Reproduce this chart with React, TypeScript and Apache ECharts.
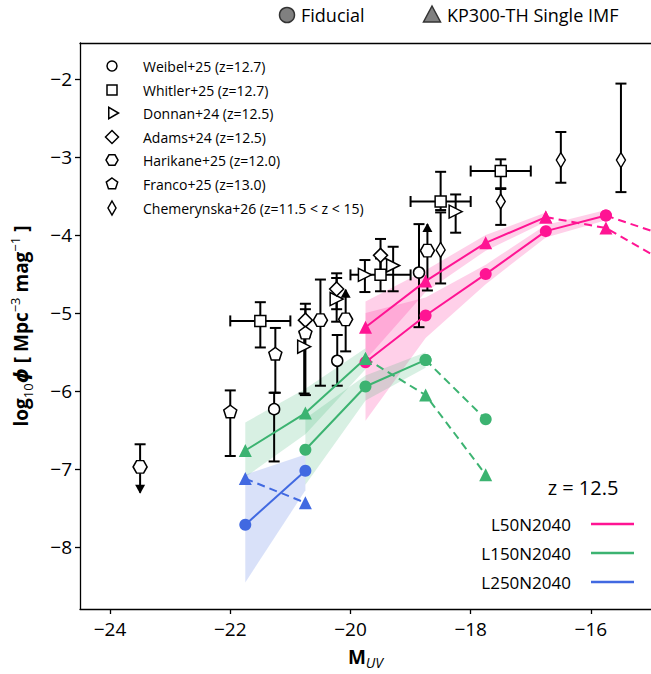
import React, { useEffect, useRef } from "react";
import * as echarts from "echarts";

// ---------- axis ----------
const X_MIN = -24.5;
const X_MAX = -15.0;
const Y_MIN = -8.79;
const Y_MAX = -1.54;
const xTicks = [-24, -22, -20, -18, -16];
const yTicks = [-8, -7, -6, -5, -4, -3, -2];

// ---------- simulations ----------
// L50N2040
const l50FidX = [-19.75, -18.75, -17.75, -16.75, -15.75, -14.75];
const l50FidY = [-5.63, -5.03, -4.5, -3.95, -3.75, -4.01];
const l50FidSolidN = 5;
const l50KpX = [-19.75, -18.75, -17.75, -16.75, -15.75, -14.75];
const l50KpY = [-5.18, -4.59, -4.1, -3.77, -3.91, -4.35];
const l50KpSolidN = 4;
const l50FidBandX = [-19.75, -18.75, -17.75, -16.75, -15.75];
const l50FidBandLo = [-6.38, -5.32, -4.63, -4.03, -3.81];
const l50FidBandHi = [-5.0, -4.8, -4.38, -3.87, -3.68];
const l50KpBandX = [-19.75, -18.75, -17.75, -16.75];
const l50KpBandLo = [-5.6, -4.73, -4.2, -3.83];
const l50KpBandHi = [-4.85, -4.45, -4.0, -3.71];

// L150N2040
const l150FidX = [-20.75, -19.75, -18.75, -17.75];
const l150FidY = [-6.75, -5.94, -5.6, -6.36];
const l150FidSolidN = 3;
const l150KpX = [-21.75, -20.75, -19.75, -18.75, -17.75];
const l150KpY = [-6.76, -6.28, -5.58, -6.05, -7.07];
const l150KpSolidN = 3;
const l150FidBandX = [-20.75, -19.75, -18.75];
const l150FidBandLo = [-7.2, -6.12, -5.7];
const l150FidBandHi = [-6.35, -5.8, -5.5];
const l150KpBandX = [-21.75, -20.75, -19.75];
const l150KpBandLo = [-7.1, -6.55, -5.72];
const l150KpBandHi = [-6.4, -5.97, -5.45];

// L250N2040
const l250FidX = [-21.75, -20.75];
const l250FidY = [-7.71, -7.02];
const l250KpX = [-21.75, -20.75];
const l250KpY = [-7.12, -7.43];
const l250FidBandX = [-21.75, -20.75];
const l250FidBandLo = [-8.45, -7.27];
const l250FidBandHi = [-7.07, -6.81];

// ---------- observations ----------
const weibelX = [-21.27, -20.22, -18.86];
const weibelY = [-6.23, -5.61, -4.48];
const weibelHi = [-6.02, -5.28, -3.86];
const weibelLo = [-6.9, -5.93, -5.18];

const whitlerX = [-21.5, -19.5, -18.5, -17.5];
const whitlerY = [-5.1, -4.51, -3.57, -3.18];
const whitlerHi = [-4.86, -4.3, -3.19, -3.03];
const whitlerLo = [-5.44, -4.72, -3.68, -3.4];
const whitlerXLo = [-22.0, -20.0, -19.0, -18.0];
const whitlerXHi = [-21.0, -19.0, -18.0, -17.0];

const donnanX = [-20.77, -20.23, -19.76, -19.29, -18.25];
const donnanY = [-5.43, -4.82, -4.51, -4.39, -3.7];
const donnanHi = [-5.25, -4.55, -4.32, -4.15, -3.48];
const donnanLo = [-6.03, -5.11, -4.73, -4.72, -3.97];

const adamsX = [-20.75, -20.23, -19.5];
const adamsY = [-5.09, -4.69, -4.26];
const adamsHi = [-4.88, -4.49, -4.05];
const adamsLo = [-5.3, -4.95, -4.45];

const harikaneX = [-23.5, -20.5, -20.08, -18.72];
const harikaneY = [-6.97, -5.09, -5.08, -4.2];
const harikaneHi = [-6.68, -4.57, -4.7, -3.86];
const harikaneLo = [-7.3, -5.93, -5.49, -4.71];
const harikaneLimit = [1, 0, 2, 2]; // 1 = upper limit, 2 = lower limit

const francoX = [-22.0, -21.25, -20.75];
const francoY = [-6.26, -5.52, -5.25];
const francoHi = [-5.99, -5.19, -4.95];
const francoLo = [-6.83, -6.02, -6.05];

const chemX = [-18.5, -17.5, -16.5, -15.5];
const chemY = [-4.19, -3.57, -3.04, -3.04];
const chemHi = [-3.71, -3.41, -2.68, -2.06];
const chemLo = [-4.62, -3.87, -3.33, -3.45];

const obsLabels = [
  "Weibel+25 (z=12.7)",
  "Whitler+25 (z=12.7)",
  "Donnan+24 (z=12.5)",
  "Adams+24 (z=12.5)",
  "Harikane+25 (z=12.0)",
  "Franco+25 (z=13.0)",
  "Chemerynska+26 (z=11.5 < z < 15)",
];
const simLabels = ["L50N2040", "L150N2040", "L250N2040"];

// ---------- styles ----------
const PINK = "#ff1493";
const GREEN = "#3cb371";
const BLUE = "#4169e1";
const FONT = '"Open Sans", "DejaVu Sans", sans-serif';

const HEX = "path://M-1,0L-0.5,-0.866L0.5,-0.866L1,0L0.5,0.866L-0.5,0.866Z";
const PENT = "path://M0,-1L0.951,-0.309L0.588,0.809L-0.588,0.809L-0.951,-0.309Z";
const THIN_D = "path://M0,-1L0.6,0L0,1L-0.6,0Z";

const minus = (v: number) => (v < 0 ? "\u2212" + Math.abs(v) : String(v));

function pairs(xs: number[], ys: number[]) {
  return xs.map((x, i) => [x, ys[i]]);
}

function lineSeries(
  xs: number[],
  ys: number[],
  color: string,
  symbol: string,
  dashed: boolean
) {
  return {
    type: "line",
    data: pairs(xs, ys),
    symbol,
    symbolSize: symbol === "triangle" ? 13 : 12,
    showSymbol: true,
    clip: true,
    z: 5,
    silent: true,
    itemStyle: { color, borderWidth: 0 },
    lineStyle: { color, width: 2, type: dashed ? [8, 5] : "solid" },
  };
}

function bandSeries(xs: number[], lo: number[], hi: number[], color: string) {
  return {
    type: "custom",
    clip: true,
    z: 1,
    silent: true,
    data: xs.map((x, i) => [x, lo[i], hi[i]]),
    encode: { x: 0, y: [1, 2] },
    renderItem: (params: any, api: any) => {
      if (params.dataIndex !== 0) return { type: "group", children: [] };
      const pts: number[][] = [];
      for (let i = 0; i < xs.length; i++) pts.push(api.coord([xs[i], lo[i]]));
      for (let i = xs.length - 1; i >= 0; i--) pts.push(api.coord([xs[i], hi[i]]));
      return { type: "polygon", shape: { points: pts }, style: { fill: color } };
    },
  };
}

function errSeries(
  xs: number[],
  ys: number[],
  lo: number[],
  hi: number[],
  xlo?: number[],
  xhi?: number[],
  lim?: number[]
) {
  return {
    type: "custom",
    clip: true,
    z: 3,
    silent: true,
    data: xs.map((x, i) => [
      x,
      ys[i],
      lo[i],
      hi[i],
      xlo ? xlo[i] : x,
      xhi ? xhi[i] : x,
      lim ? lim[i] : 0,
    ]),
    encode: { x: [0, 4, 5], y: [1, 2, 3] },
    renderItem: (params: any, api: any) => {
      const x = api.value(0);
      const y = api.value(1);
      const l = api.value(2);
      const h = api.value(3);
      const xl = api.value(4);
      const xh = api.value(5);
      const lm = api.value(6);
      const pL = api.coord([x, l]);
      const pH = api.coord([x, h]);
      const st = { stroke: "#000", lineWidth: 2 };
      const cap = 5.5;
      const ch: any[] = [];
      ch.push({ type: "line", shape: { x1: pL[0], y1: pL[1], x2: pH[0], y2: pH[1] }, style: st });
      if (lm !== 2)
        ch.push({ type: "line", shape: { x1: pH[0] - cap, y1: pH[1], x2: pH[0] + cap, y2: pH[1] }, style: st });
      if (lm !== 1)
        ch.push({ type: "line", shape: { x1: pL[0] - cap, y1: pL[1], x2: pL[0] + cap, y2: pL[1] }, style: st });
      if (lm === 1) {
        ch.push({
          type: "polygon",
          shape: { points: [[pL[0] - 5, pL[1] - 8], [pL[0] + 5, pL[1] - 8], [pL[0], pL[1] + 1]] },
          style: { fill: "#000" },
        });
      }
      if (lm === 2) {
        ch.push({
          type: "polygon",
          shape: { points: [[pH[0] - 5, pH[1] + 8], [pH[0] + 5, pH[1] + 8], [pH[0], pH[1] - 1]] },
          style: { fill: "#000" },
        });
      }
      if (xl !== xh) {
        const a = api.coord([xl, y]);
        const b = api.coord([xh, y]);
        ch.push({ type: "line", shape: { x1: a[0], y1: a[1], x2: b[0], y2: b[1] }, style: st });
        ch.push({ type: "line", shape: { x1: a[0], y1: a[1] - cap, x2: a[0], y2: a[1] + cap }, style: st });
        ch.push({ type: "line", shape: { x1: b[0], y1: b[1] - cap, x2: b[0], y2: b[1] + cap }, style: st });
      }
      return { type: "group", children: ch };
    },
  };
}

function markerSeries(xs: number[], ys: number[], symbol: string, size: any, rotate = 0) {
  return {
    type: "scatter",
    data: pairs(xs, ys),
    symbol,
    symbolSize: size,
    symbolRotate: rotate,
    clip: true,
    z: 4,
    silent: true,
    itemStyle: { color: "#fff", borderColor: "#000", borderWidth: 1.5, opacity: 1 },
  };
}

function regPoly(cx: number, cy: number, r: number, n: number, startDeg: number) {
  const pts: number[][] = [];
  for (let k = 0; k < n; k++) {
    const a = ((startDeg + (360 / n) * k) * Math.PI) / 180;
    pts.push([cx + r * Math.cos(a), cy + r * Math.sin(a)]);
  }
  return pts;
}

function buildGraphic() {
  const g: any[] = [];
  const ms = { fill: "#fff", stroke: "#000", lineWidth: 1.5 };
  const mx = 112;
  const rows = [66, 90, 113, 137, 160, 184, 208];
  g.push({ type: "circle", shape: { cx: mx, cy: rows[0], r: 5 }, style: ms });
  g.push({ type: "rect", shape: { x: mx - 5, y: rows[1] - 5, width: 10, height: 10 }, style: ms });
  g.push({ type: "polygon", shape: { points: regPoly(mx, rows[2], 6.5, 3, 0) }, style: ms });
  g.push({ type: "polygon", shape: { points: regPoly(mx, rows[3], 6.5, 4, 0) }, style: ms });
  g.push({ type: "polygon", shape: { points: regPoly(mx, rows[4], 6, 6, 0) }, style: ms });
  g.push({ type: "polygon", shape: { points: regPoly(mx, rows[5], 6, 5, -90) }, style: ms });
  g.push({
    type: "polygon",
    shape: { points: [[mx, rows[6] - 7], [mx + 4, rows[6]], [mx, rows[6] + 7], [mx - 4, rows[6]]] },
    style: ms,
  });
  obsLabels.forEach((t, i) => {
    g.push({
      type: "text",
      x: 143,
      y: rows[i],
      style: { text: t, fill: "#000", fontSize: 14, fontFamily: FONT, textAlign: "left", textVerticalAlign: "middle" },
    });
  });

  // top legend
  g.push({ type: "circle", shape: { cx: 287, cy: 15, r: 7.5 }, style: { fill: "#808080", stroke: "#333", lineWidth: 1.5 } });
  g.push({
    type: "text",
    x: 301,
    y: 15,
    style: { text: "Fiducial", fill: "#000", fontSize: 18, fontFamily: FONT, textAlign: "left", textVerticalAlign: "middle" },
  });
  g.push({
    type: "polygon",
    shape: { points: [[432, 6], [440.5, 22], [423.5, 22]] },
    style: { fill: "#808080", stroke: "#333", lineWidth: 1.5 },
  });
  g.push({
    type: "text",
    x: 447,
    y: 15,
    style: { text: "KP300-TH Single IMF", fill: "#000", fontSize: 18, fontFamily: FONT, textAlign: "left", textVerticalAlign: "middle" },
  });

  // bottom-right legend
  g.push({
    type: "text",
    x: 583,
    y: 487,
    style: { text: "z = 12.5", fill: "#000", fontSize: 20, fontFamily: FONT, textAlign: "center", textVerticalAlign: "middle" },
  });
  const simColors = [PINK, GREEN, BLUE];
  const simRows = [524, 553, 582];
  simLabels.forEach((t, i) => {
    g.push({
      type: "text",
      x: 571,
      y: simRows[i],
      style: { text: t, fill: "#000", fontSize: 17, fontFamily: FONT, textAlign: "right", textVerticalAlign: "middle" },
    });
    g.push({
      type: "line",
      shape: { x1: 591, y1: simRows[i], x2: 634, y2: simRows[i] },
      style: { stroke: simColors[i], lineWidth: 2.5 },
    });
  });
  return g;
}

export default function App() {
  const ref = useRef<HTMLDivElement>(null);
  useEffect(() => {
    document.body.style.margin = "0";
    if (!ref.current) return;
    const chart = echarts.init(ref.current, undefined, { renderer: "svg" });
    const axisLineStyle = { color: "#000", width: 1.3 };
    const option: any = {
      animation: false,
      backgroundColor: "#fff",
      grid: { left: 80, right: 0, top: 43, bottom: 62, containLabel: false },
      xAxis: [
        {
          type: "value",
          min: X_MIN,
          max: X_MAX,
          splitNumber: 5,
          splitLine: { show: false },
          axisLine: { show: true, onZero: false, lineStyle: axisLineStyle },
          axisTick: { show: true, length: 5, lineStyle: axisLineStyle, customValues: xTicks },
          axisLabel: {
            color: "#000",
            fontSize: 19,
            fontFamily: FONT,
            margin: 10,
            customValues: xTicks,
            formatter: (v: number) => minus(v),
          },
          name: "{b|M}{s|UV}",
          nameLocation: "middle",
          nameGap: 36,
          nameTextStyle: {
            rich: {
              b: { fontSize: 19, fontWeight: "bold", fontFamily: FONT, color: "#000", lineHeight: 24, verticalAlign: "middle" },
              s: { fontSize: 14, fontStyle: "italic", fontFamily: FONT, color: "#000", lineHeight: 24, verticalAlign: "bottom" },
            },
          },
        },
        {
          type: "value",
          position: "top",
          min: X_MIN,
          max: X_MAX,
          splitLine: { show: false },
          axisLine: { show: true, onZero: false, lineStyle: axisLineStyle },
          axisTick: { show: false },
          axisLabel: { show: false },
        },
      ],
      yAxis: {
        type: "value",
        min: Y_MIN,
        max: Y_MAX,
        splitNumber: 7,
        splitLine: { show: false },
        axisLine: { show: true, onZero: false, lineStyle: axisLineStyle },
        axisTick: { show: true, length: 5, lineStyle: axisLineStyle, customValues: yTicks },
        axisLabel: {
          color: "#000",
          fontSize: 19,
          fontFamily: FONT,
          margin: 8,
          customValues: yTicks,
          formatter: (v: number) => minus(v),
        },
        name: "{b|log}{s|10}{i|\u03d5}{b| [ Mpc}{u|\u22123}{b| mag}{u|\u22121}{b| ]}",
        nameLocation: "middle",
        nameGap: 46,
        nameRotate: 90,
        nameTextStyle: {
          rich: {
            b: { fontSize: 19, fontWeight: "bold", fontFamily: FONT, color: "#000", lineHeight: 26, verticalAlign: "middle" },
            i: { fontSize: 19, fontWeight: "bold", fontStyle: "italic", fontFamily: FONT, color: "#000", lineHeight: 26, verticalAlign: "middle" },
            s: { fontSize: 13, fontFamily: FONT, color: "#000", lineHeight: 26, verticalAlign: "bottom" },
            u: { fontSize: 13, fontFamily: FONT, color: "#000", lineHeight: 26, verticalAlign: "top" },
          },
        },
      },
      series: [
        bandSeries(l50FidBandX, l50FidBandLo, l50FidBandHi, "rgba(255,20,147,0.2)"),
        bandSeries(l50KpBandX, l50KpBandLo, l50KpBandHi, "rgba(255,20,147,0.2)"),
        bandSeries(l150FidBandX, l150FidBandLo, l150FidBandHi, "rgba(60,179,113,0.2)"),
        bandSeries(l150KpBandX, l150KpBandLo, l150KpBandHi, "rgba(60,179,113,0.2)"),
        bandSeries(l250FidBandX, l250FidBandLo, l250FidBandHi, "rgba(65,105,225,0.2)"),

        errSeries(weibelX, weibelY, weibelLo, weibelHi),
        errSeries(whitlerX, whitlerY, whitlerLo, whitlerHi, whitlerXLo, whitlerXHi),
        errSeries(donnanX, donnanY, donnanLo, donnanHi),
        errSeries(adamsX, adamsY, adamsLo, adamsHi),
        errSeries(harikaneX, harikaneY, harikaneLo, harikaneHi, undefined, undefined, harikaneLimit),
        errSeries(francoX, francoY, francoLo, francoHi),
        errSeries(chemX, chemY, chemLo, chemHi),

        markerSeries(weibelX, weibelY, "circle", 11),
        markerSeries(whitlerX, whitlerY, "rect", 11),
        markerSeries(donnanX, donnanY, "triangle", 13, -90),
        markerSeries(adamsX, adamsY, "diamond", 14),
        markerSeries(harikaneX, harikaneY, HEX, [14, 12.5]),
        markerSeries(francoX, francoY, PENT, [13, 12.5]),
        markerSeries(chemX, chemY, THIN_D, [9, 15]),

        lineSeries(l50FidX.slice(0, l50FidSolidN), l50FidY.slice(0, l50FidSolidN), PINK, "circle", false),
        lineSeries(l50FidX.slice(l50FidSolidN - 1), l50FidY.slice(l50FidSolidN - 1), PINK, "circle", true),
        lineSeries(l50KpX.slice(0, l50KpSolidN), l50KpY.slice(0, l50KpSolidN), PINK, "triangle", false),
        lineSeries(l50KpX.slice(l50KpSolidN - 1), l50KpY.slice(l50KpSolidN - 1), PINK, "triangle", true),
        lineSeries(l150FidX.slice(0, l150FidSolidN), l150FidY.slice(0, l150FidSolidN), GREEN, "circle", false),
        lineSeries(l150FidX.slice(l150FidSolidN - 1), l150FidY.slice(l150FidSolidN - 1), GREEN, "circle", true),
        lineSeries(l150KpX.slice(0, l150KpSolidN), l150KpY.slice(0, l150KpSolidN), GREEN, "triangle", false),
        lineSeries(l150KpX.slice(l150KpSolidN - 1), l150KpY.slice(l150KpSolidN - 1), GREEN, "triangle", true),
        lineSeries(l250FidX, l250FidY, BLUE, "circle", false),
        lineSeries(l250KpX, l250KpY, BLUE, "triangle", true),
      ],
      graphic: buildGraphic(),
    };
    chart.setOption(option);
    return () => chart.dispose();
  }, []);
  return <div ref={ref} style={{ width: 651, height: 674 }} />;
}
